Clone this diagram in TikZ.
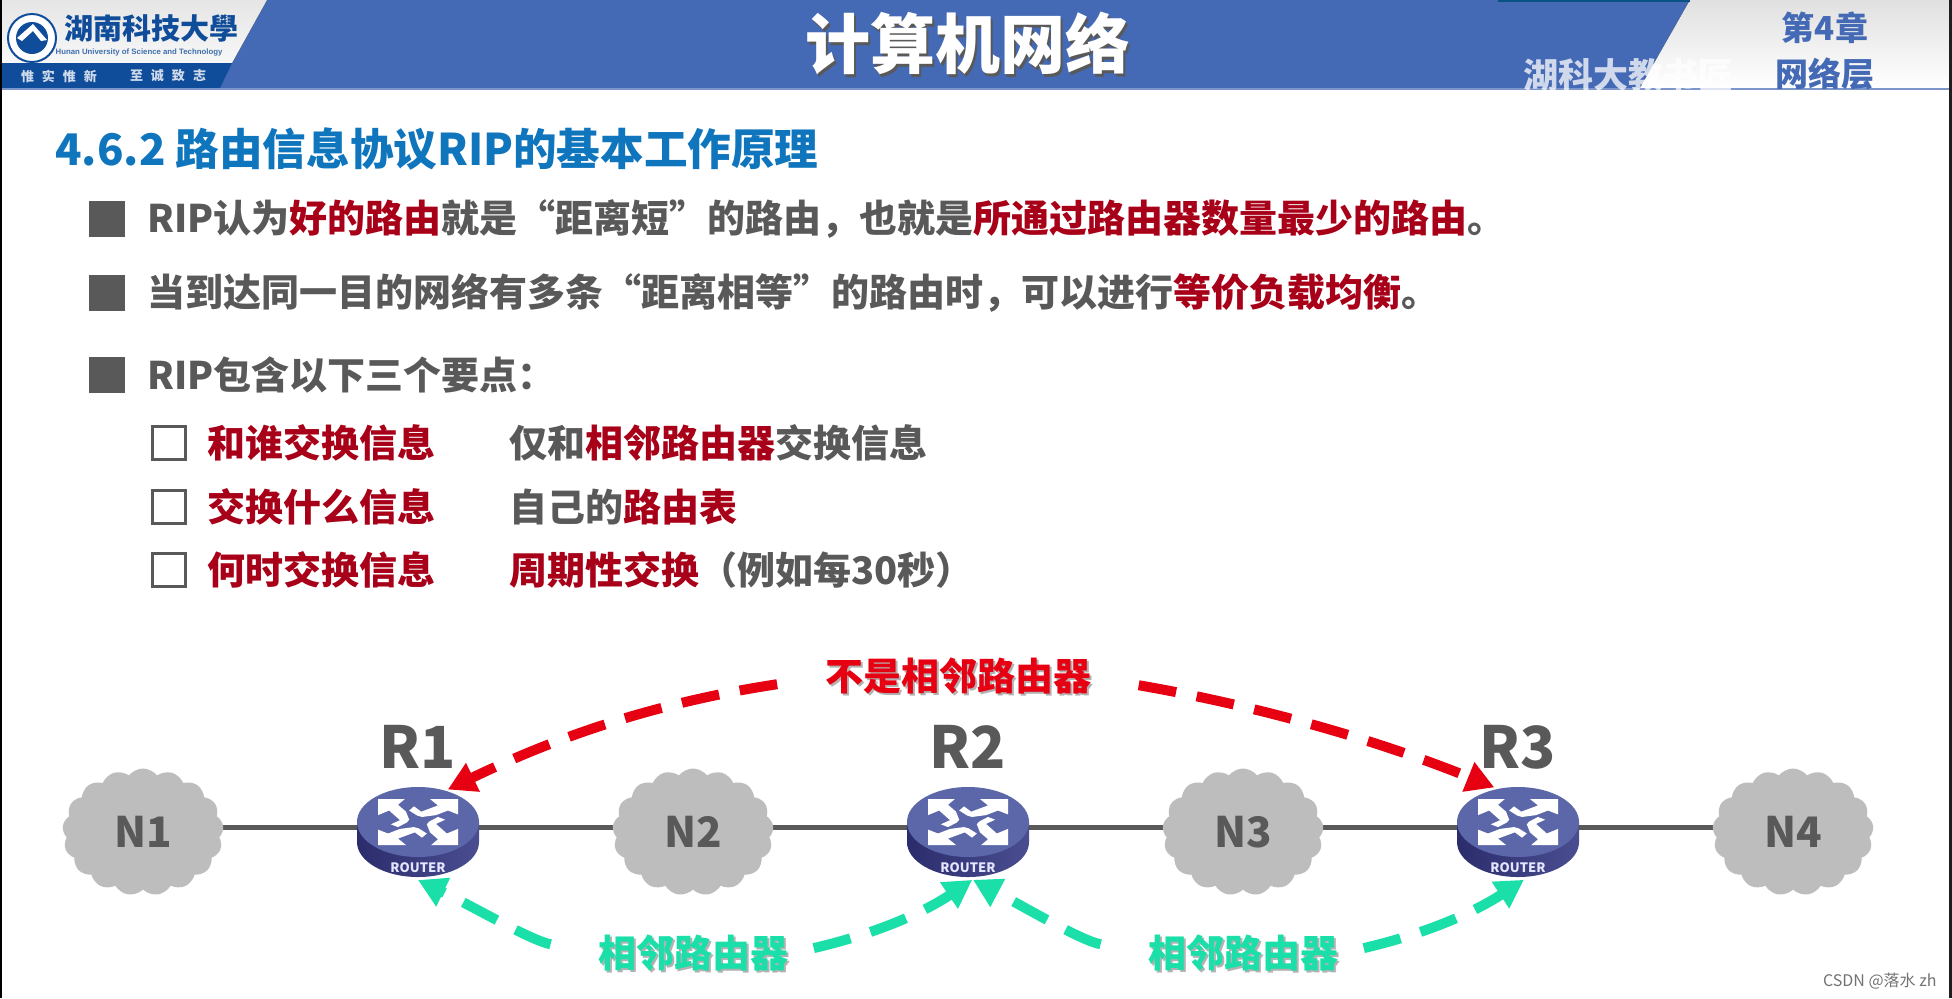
\documentclass[tikz,border=0pt]{standalone}
\usepackage{fontspec}
\setmainfont{Noto Sans CJK SC}
\newfontfamily\wmfont{Liberation Sans}
\usetikzlibrary{arrows.meta,shapes.geometric,shapes.symbols,backgrounds}
\definecolor{txtgray}{HTML}{595959}
\definecolor{hlred}{HTML}{A80018}
\definecolor{ttlblue}{HTML}{0F75BD}
\definecolor{hdrblue}{HTML}{4469B5}
\definecolor{bandblue}{HTML}{0F4C9A}
\definecolor{arrred}{HTML}{E60012}
\definecolor{arrteal}{HTML}{1ADFA8}
\definecolor{routertop}{HTML}{5B67A8}
\definecolor{routerdark}{HTML}{2B2C6C}
\definecolor{routermid}{HTML}{4A4E90}
\newcommand{\hl}[1]{\textcolor{hlred}{#1}}
\newcommand{\shtext}[2]{\makebox[0pt][l]{\raisebox{-1.2pt}{\hspace{1.2pt}\textcolor{#1}{#2}}}#2}
\tikzset{
  linetext/.style={anchor=west,inner sep=0pt,text=txtgray,font=\fontsize{19}{22}\selectfont\bfseries},
  redtext/.style={linetext,text=hlred},
  bulletbox/.style={fill=txtgray,minimum size=18pt,inner sep=0pt},
  checkbox/.style={draw=txtgray,line width=1.6pt,minimum size=16.5pt,inner sep=0pt},
  netcloud/.style={cloud,cloud puffs=17,cloud puff arc=105,aspect=1.27,fill=black!26,
    minimum width=80.5pt,minimum height=63.5pt,inner sep=0pt,text=txtgray,
    font=\fontsize{21}{24}\selectfont\bfseries},
  routernode/.style={ellipse,minimum width=61pt,minimum height=45pt,inner sep=0pt,outer sep=1.5pt},
  routerlabel/.style={inner sep=0pt,text=txtgray,font=\fontsize{29}{32}\selectfont\bfseries},
  link/.style={draw=txtgray,line width=2.5pt},
  redarrow/.style={draw=arrred,line width=5pt,dash pattern=on 19pt off 10.5pt,
    -{Triangle[length=14pt,width=15pt]}},
  tealarrow/.style={draw=arrteal,line width=5pt,dash pattern=on 19pt off 10.5pt,
    -{Triangle[length=14pt,width=15pt]}},
  redlabel/.style={inner sep=0pt,text=arrred,font=\fontsize{19}{22}\selectfont\bfseries},
  teallabel/.style={inner sep=0pt,text=arrteal,font=\fontsize{19}{22}\selectfont\bfseries},
}
\begin{document}
\begin{tikzpicture}[x=0.5pt,y=-0.5pt]
  \useasboundingbox (0,0) rectangle (1952,998);
  % header band
  \fill[hdrblue] (0,0) rectangle (1952,88);
  \fill[top color=black!10,bottom color=black!3] (0,0) -- (267,0) -- (232,63) -- (0,63) -- cycle;
  \fill[bandblue] (0,63) -- (232,63) -- (220,88) -- (0,88) -- cycle;
  \fill[top color=black!12,bottom color=white] (1690,0) -- (1952,0) -- (1952,88) -- (1640,88) -- cycle;
  \fill[ttlblue!70!black] (1498,0) rectangle (1690,1.5);
  \fill[hdrblue!70!white] (0,88) rectangle (1952,89.5);
  % logo
  \fill[white] (32,38) circle (25);
  \draw[bandblue,line width=1pt] (32,38) circle (24);
  \fill[bandblue] (32,38) circle (16);
  \fill[white] (17,38) -- (33,24) -- (47,40) -- (41,41) -- (33,31) -- (22,41) -- cycle;
  \node[inner sep=0pt,text=bandblue,font=\fontsize{14.5}{16}\selectfont\bfseries] (uniname) at (151,29)
    {湖南科技大學};
  \node[inner sep=0pt,text=bandblue!80,font=\wmfont\fontsize{3.9}{5}\selectfont\bfseries] (unieng) at (139,52)
    {Hunan University of Science and Technology};
  \node[inner sep=0pt,text=white!80!bandblue,font=\fontsize{6.5}{8}\selectfont\bfseries] (motto1) at (59,76)
    {惟\hspace{4pt}实\hspace{4pt}惟\hspace{4pt}新};
  \node[inner sep=0pt,text=white!80!bandblue,font=\fontsize{6.5}{8}\selectfont\bfseries] (motto2) at (168,76)
    {至\hspace{4pt}诚\hspace{4pt}致\hspace{4pt}志};
  % header texts
  \node[inner sep=0pt,text=white,font=\fontsize{32.5}{36}\selectfont\bfseries] (maintitle) at (968,45)
    {\shtext{black!65}{计算机网络}};
  \node[inner sep=0pt,text=hdrblue,font=\fontsize{16.5}{19}\selectfont\bfseries] (chapter) at (1825,28) {第4章};
  \node[inner sep=0pt,text=hdrblue,font=\fontsize{16.5}{19}\selectfont\bfseries] (chaptername) at (1825,74) {网络层};
  \node[anchor=west,inner sep=0pt,text=white,opacity=.75,font=\fontsize{17.5}{20}\selectfont\bfseries] (wmark) at (1523,75)
    {湖科大教书匠};
  % page text
  \node[anchor=west,inner sep=0pt,text=ttlblue,font=\fontsize{21.8}{25}\selectfont\bfseries] (pagetitle) at (55,149)
    {4.6.2 路由信息协议RIP的基本工作原理};
  \foreach \name/\y in {b1/219,b2/293,b3/375}
    \node[bulletbox] (\name) at (107,\y) {};
  \foreach \name/\y in {c1/443,c2/507,c3/570}
    \node[checkbox] (\name) at (169,\y) {};
  \node[linetext] (line1) at (147,219) {RIP认为\hl{好的路由}就是“距离短”的路由，也就是\hl{所通过路由器数量最少的路由}。};
  \node[linetext] (line2) at (147,293) {当到达同一目的网络有多条“距离相等”的路由时，可以进行\hl{等价负载均衡}。};
  \node[linetext] (line3) at (147,375) {RIP包含以下三个要点：};
  \node[redtext] (who) at (207,443) {和谁交换信息};
  \node[redtext] (what) at (207,507) {交换什么信息};
  \node[redtext] (when) at (207,570) {何时交换信息};
  \node[linetext] (whoans) at (509,443) {仅和\hl{相邻路由器}交换信息};
  \node[linetext] (whatans) at (509,507) {自己的\hl{路由表}};
  \node[linetext] (whenans) at (509,570) {\hl{周期性交换}（例如每30秒）};
  % networks and routers
  \foreach \name/\x in {N1/143,N2/693,N3/1243,N4/1793}
    \node[netcloud] (\name) at (\x,832) {\name};
  \foreach \name/\x in {R1/418,R2/968,R3/1518} {
    \node[routernode] (\name) at (\x,832) {};
    \begin{scope}[shift={(\x,832)}]
      \shade[left color=routerdark,right color=routermid]
        (-61,-10) -- (-61,10) .. controls (-61,29.3) and (-33.7,45) .. (0,45)
        .. controls (33.7,45) and (61,29.3) .. (61,10) -- (61,-10) -- cycle;
      \fill[routertop] (0,-10) ellipse [x radius=61,y radius=35];
      \foreach \a in {0,90,180,270}
        \fill[white,shift={(0,-10)},xscale=40,yscale=23,rotate=\a]
          (-1,-1) -- (-.33,-1) -- (-.5,-.75) -- (-.3,-.45) -- (-.22,-.1) -- (-.28,.02) -- (-.5,.22)
          -- (-.68,.1) -- (-.45,-.08) -- (-.72,-.5) -- (-1,-.3) -- cycle;
    \end{scope}
    \node[inner sep=0pt,text=white!90!blue,font=\fontsize{6.5}{7}\selectfont\bfseries] (tag\name) at (\x,868) {ROUTER};
    \node[routerlabel] (lab\name) at (\x,747) {\name};
  }
  \begin{scope}[on background layer]
    \fill[white] (0,0) rectangle (1952,998);
    \foreach \a/\b in {N1/R1,R1/N2,N2/R2,R2/N3,N3/R3,R3/N4}
      \draw[link] ([yshift=2.5pt]\a.center) -- ([yshift=2.5pt]\b.center);
  \end{scope}
  % labels and arrows
  \node[redlabel] (notadj) at (958,677) {\shtext{black!30}{不是相邻路由器}};
  \node[teallabel] (adj12) at (693,954) {\shtext{black!30}{相邻路由器}};
  \node[teallabel] (adj23) at (1243,954) {\shtext{black!30}{相邻路由器}};
  \draw[redarrow,shorten <=24pt] (notadj.west) .. controls (640,705) and (540,745) .. (R1.55);
  \draw[redarrow,shorten <=24pt] (notadj.east) .. controls (1270,708) and (1390,745) .. (R3.118);
  \draw[tealarrow,shorten <=24pt] (adj12.west) .. controls (530,940) and (480,910) .. (R1.-90);
  \draw[tealarrow,shorten <=13pt] (adj12.east) .. controls (870,935) and (920,915) .. (R2.-85);
  \draw[tealarrow,shorten <=24pt] (adj23.west) .. controls (1080,940) and (1030,910) .. (R2.-84);
  \draw[tealarrow,shorten <=13pt] (adj23.east) .. controls (1420,935) and (1470,915) .. (R3.-83);
  % footer and page edges
  \node[anchor=east,inner sep=0pt,text=black!55,font=\fontsize{8}{10}\selectfont] (csdn) at (1937,981) {CSDN @落水 zh};
  \fill[black] (0,0) rectangle (2,998);
  \fill[black!88] (1949,0) rectangle (1952,998);
\end{tikzpicture}
\end{document}
